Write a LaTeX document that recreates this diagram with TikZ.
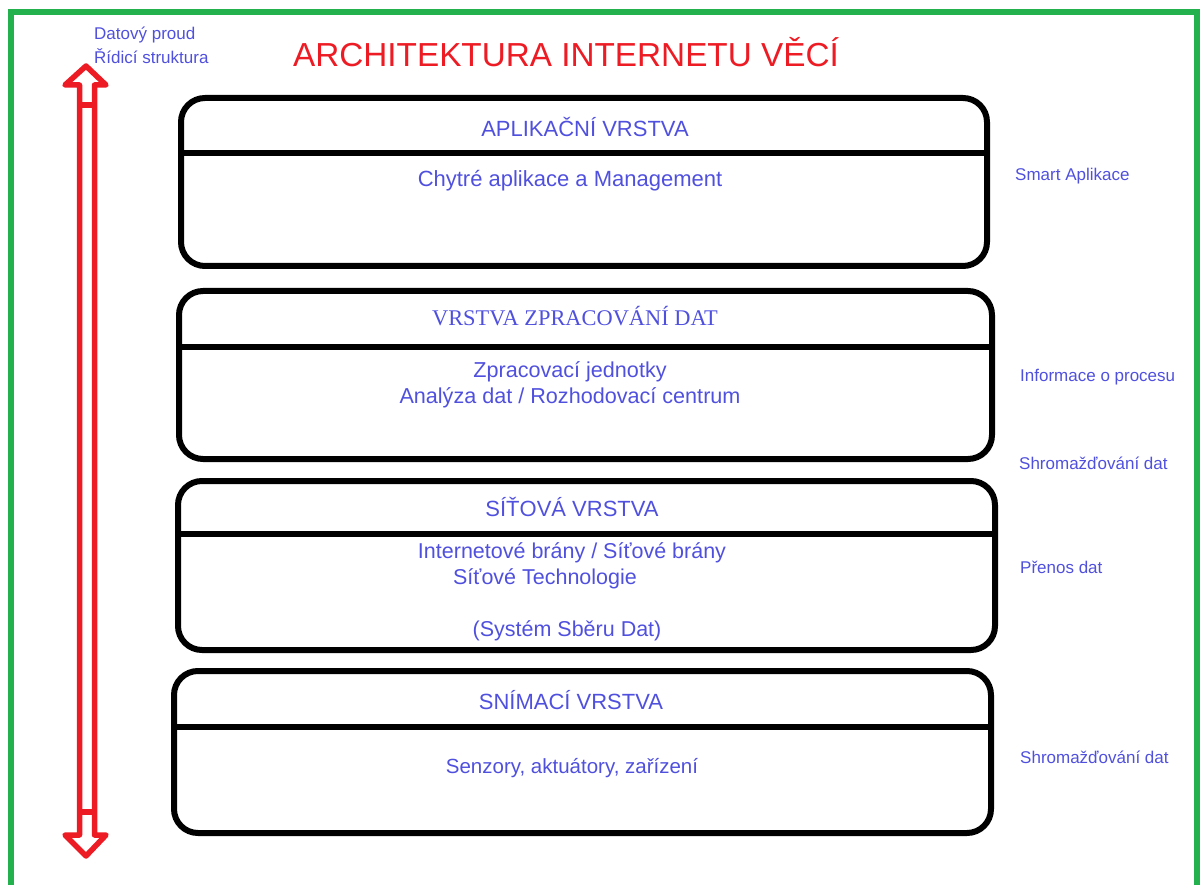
\documentclass[tikz,border=0pt]{standalone}
\usepackage{fontspec}
\setmainfont{Liberation Sans}
\newfontfamily\serifface{Liberation Serif}
\definecolor{frame}{RGB}{34,177,76}
\definecolor{arrowred}{RGB}{237,28,36}
\definecolor{labelblue}{RGB}{80,80,222}
\begin{document}
\begin{tikzpicture}[x=1pt,y=-1pt,
  layer/.style={draw=black,line width=6pt,rounded corners=24pt},
  divider/.style={draw=black,line width=6pt},
  txt/.style={inner sep=0pt,text=labelblue,font=\fontsize{22}{26}\selectfont},
  side/.style={inner sep=0pt,anchor=west,text=labelblue,font=\fontsize{17}{20}\selectfont},
  flow/.style={draw=arrowred,line width=5.5pt,line join=round}]
\useasboundingbox (0,0) rectangle (1203,885);
% outer frame
\draw[frame,line width=6pt] (11,12) rectangle (1197,900);

% title
\node[inner sep=0pt,text=arrowred,font=\fontsize{33.3}{38}\selectfont] (title) at (566,52) {ARCHITEKTURA INTERNETU VĚCÍ};

% data flow / control arrow
\draw[flow] (86,66) -- (106,85) -- (94.5,85) -- (94.5,835) -- (106,835) -- (86,856)
  -- (65,835) -- (79.5,835) -- (79.5,85) -- (65,85) -- cycle;
\draw[flow] (79.5,105) -- (94.5,105);
\draw[flow] (79.5,812) -- (94.5,812);
\node[side] (flowA) at (94,35) {Datový proud};
\node[side] (flowB) at (94,56) {Řídicí struktura};

% application layer
\draw[layer] (181,98) rectangle (987,266);
\draw[divider] (181,153) -- (987,153);
\node[txt] (appT) at (585,127) {APLIKAČNÍ VRSTVA};
\node[txt] (appB) at (570,181) {Chytré aplikace a Management};

% processing layer
\draw[layer] (179,291) rectangle (992,459);
\draw[divider] (179,347) -- (992,347);
\node[txt,font=\serifface\fontsize{22.4}{26}\selectfont] (procT) at (575,316) {VRSTVA ZPRACOVÁNÍ DAT};
\node[txt,align=center,font=\fontsize{21.6}{26}\selectfont] (procB) at (570,385) {Zpracovací jednotky\\Analýza dat / Rozhodovací centrum};

% network layer
\draw[layer] (178,481) rectangle (995,650);
\draw[divider] (178,534) -- (995,534);
\node[txt] (netT) at (572,507) {SÍŤOVÁ VRSTVA};
\node[txt,font=\fontsize{21.5}{26}\selectfont] (netB1) at (572,553) {Internetové brány / Síťové brány};
\node[txt,font=\fontsize{21.5}{26}\selectfont] (netB2) at (545,579) {Síťové Technologie};
\node[txt,font=\fontsize{21.5}{26}\selectfont] (netB3) at (567,631) {(Systém Sběru Dat)};

% sensing layer
\draw[layer] (174,671) rectangle (991,833);
\draw[divider] (171,727) -- (994,727);
\node[txt] (senT) at (571,700) {SNÍMACÍ VRSTVA};
\node[txt,font=\fontsize{20.5}{24}\selectfont] (senB) at (572,768) {Senzory, aktuátory, zařízení};

% side notes
\node[side] (s1) at (1015,176) {Smart Aplikace};
\node[side] (s2) at (1020,377) {Informace o procesu};
\node[side] (s3) at (1019,463) {Shromažďování dat};
\node[side] (s4) at (1020,567) {Přenos dat};
\node[side] (s5) at (1020,757) {Shromažďování dat};
\end{tikzpicture}
\end{document}
